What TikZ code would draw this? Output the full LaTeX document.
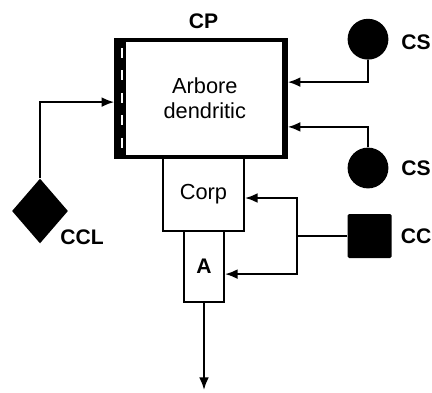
\documentclass[tikz,border=0pt]{standalone}
\usepackage{fontspec}
\setmainfont{Liberation Sans}
\usetikzlibrary{arrows.meta,shapes.geometric}
\tikzset{
  box/.style={draw, rectangle, inner sep=0pt, line width=1.4pt},
  cell/.style={fill, inner sep=0pt},
  lbl/.style={font=\fontsize{15}{17}\selectfont\bfseries},
  txt/.style={font=\fontsize{15.5}{18}\selectfont},
  wire/.style={line width=1.4pt},
  link/.style={wire, -{Latex[length=9pt,width=7pt]}}
}
\begin{document}
\begin{tikzpicture}
\useasboundingbox (0,0) rectangle (10.8,9.8);
\node[box, minimum width=2.025cm, minimum height=1.85cm, txt] (corp) at (5.0875,4.95) {Corp};
\node[box, line width=2.5pt, minimum width=4.25cm, minimum height=2.925cm] (d) at (5.025,7.3375) {};
\node[txt, align=center] (dtxt) at (5.12,7.35) {Arbore\\dendritic};
\fill (d.north west) rectangle ([xshift=0.3cm]d.south west);
\draw[white, line width=2pt, dash pattern=on 7pt off 9pt] (3.05,8.6) -- (3.05,6.0);
\draw[line width=4pt] ([xshift=-2pt]d.north east) -- ([xshift=-2pt]d.south east);
\node[lbl] (cp) at (5.09,9.26) {CP};
\node[box, lbl, minimum width=1cm, minimum height=1.775cm] (a) at (5.1,3.1375) {A};
\coordinate (out) at (5.1,0.05);
\draw[link] (a.south) -- (out);
\node[cell, circle, minimum size=1.02cm] (cs1) at (9.2,8.82) {};
\node[lbl] (cs1l) at (10.4,8.75) {CS};
\node[cell, circle, minimum size=1.02cm] (cs2) at (9.2,5.6) {};
\node[lbl] (cs2l) at (10.4,5.6) {CS};
\draw[link] (cs1.south) |- ([yshift=0.41cm]d.east);
\draw[link] (cs2.north) |- ([yshift=-0.71cm]d.east);
\node[cell, rectangle, minimum size=1.1cm, rounded corners=1pt] (cc) at (9.24,3.9) {};
\node[lbl] (ccl2) at (10.4,3.9) {CC};
\coordinate (bus) at (7.425,3.9);
\draw[wire] (cc) -- (bus);
\draw[link] (bus) |- ([yshift=-0.1cm]corp.east);
\draw[link] (bus) |- ([yshift=-0.19cm]a.east);
\node[cell, diamond, minimum width=1.4cm, minimum height=1.62cm] (ccl) at (1.0,4.525) {};
\node[lbl] (ccll) at (2.05,3.875) {CCL};
\draw[link] (ccl.north) |- ([yshift=-0.09cm]d.west);
\end{tikzpicture}
\end{document}
